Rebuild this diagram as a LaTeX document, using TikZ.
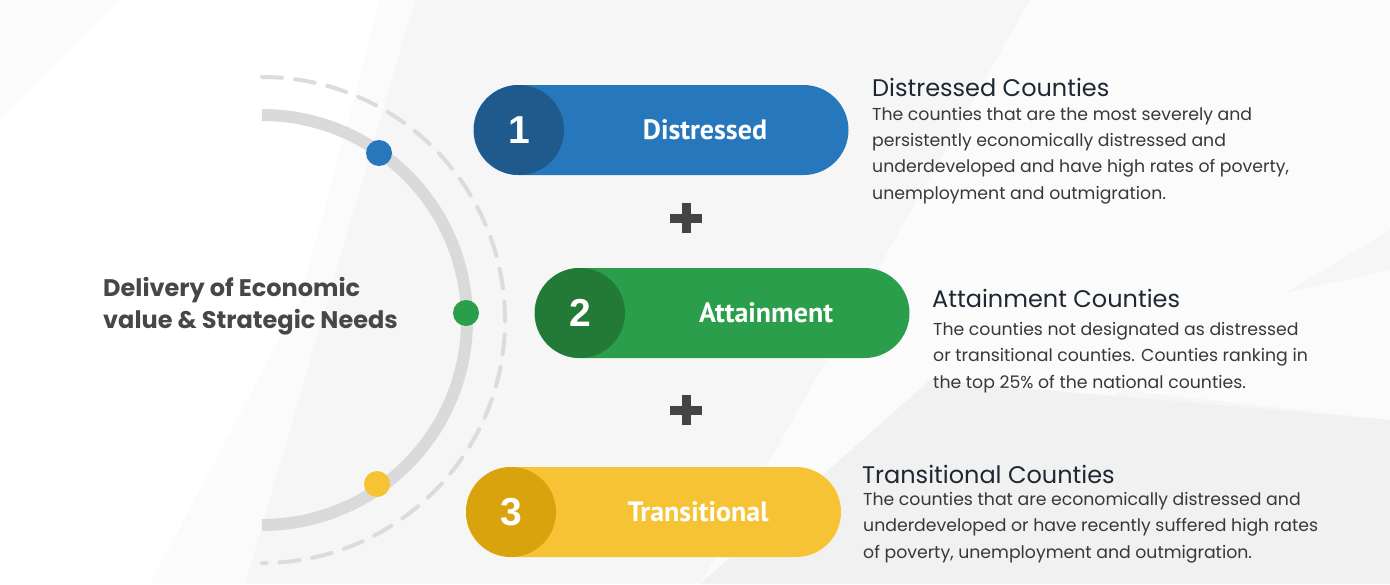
\documentclass[tikz,border=0pt]{standalone}
\usepackage{fontspec}
\setmainfont{Poppins}
\newfontfamily\pillfont{PT Sans}
\newfontfamily\numfont{Liberation Sans}
\definecolor{bgA}{HTML}{F6F6F6}
\definecolor{bgB}{HTML}{FBFBFB}
\definecolor{bgC}{HTML}{F1F1F1}
\definecolor{arcgray}{HTML}{DADADA}
\definecolor{dashgray}{HTML}{DCDCDC}
\definecolor{pBlue}{HTML}{2777BC}
\definecolor{dBlue}{HTML}{1F5A8C}
\definecolor{pGreen}{HTML}{2A9E4A}
\definecolor{dGreen}{HTML}{237A36}
\definecolor{pYellow}{HTML}{F5C334}
\definecolor{dYellow}{HTML}{D9A30D}
\definecolor{plusgray}{HTML}{444444}
\definecolor{lefttext}{HTML}{474747}
\definecolor{titletext}{HTML}{1F2733}
\definecolor{bodytext}{HTML}{383838}
\begin{document}
\begin{tikzpicture}[x=1pt,y=-1pt,
  pill/.style={rounded corners=45pt, minimum width=375pt, minimum height=90pt, inner sep=0pt},
  numcirc/.style={circle, minimum size=90pt, inner sep=0pt, text=white, font=\numfont\bfseries\fontsize{39}{39}\selectfont},
  pilltext/.style={text=white, font=\pillfont\bfseries\fontsize{28}{28}\selectfont, inner sep=0pt},
  dot/.style={circle, minimum size=26pt, inner sep=0pt},
  lefttxt/.style={anchor=base west, inner sep=0pt, text=lefttext, font=\bfseries\fontsize{24}{24}\selectfont},
  ttl/.style={anchor=base west, inner sep=0pt, text=titletext, font=\fontsize{24}{24}\selectfont},
  body/.style={anchor=base west, inner sep=0pt, text=bodytext, font=\fontsize{17.3}{17.3}\selectfont},
]
% background
\fill[bgA] (0,0) rectangle (1390,584);
\useasboundingbox (0,0) rectangle (1390,584);
\fill[bgB] (0,0) -- (415,0) -- (245,584) -- (0,584) -- cycle;
\fill[white] (120,0) -- (380,0) -- (300,300) -- (150,584) -- (0,584) -- (0,120) -- cycle;
\fill[bgB] (1030,0) -- (1390,0) -- (1390,230) -- (800,584) -- (700,584) -- cycle;
\fill[bgC] (700,584) -- (930,380) -- (1390,420) -- (1390,584) -- cycle;
\fill[bgB] (940,370) -- (1390,270) -- (1390,420) -- cycle;

% arcs
\coordinate (c) at (262,320);
\draw[arcgray, line width=12pt] (c) ++(0,-205) arc[start angle=-90, end angle=90, radius=205];
\draw[dashgray, line width=4pt, dash pattern=on 20pt off 13pt, line cap=round] (c) ++(0,-243) arc[start angle=-90, end angle=90, radius=243];

% dots
\node[dot, fill=pBlue] (d1) at (379,153) {};
\node[dot, fill=pGreen] (d2) at (466,313) {};
\node[dot, fill=pYellow] (d3) at (377,484) {};

% left text
\node[lefttxt] (lt1) at (103,296) {Delivery of Economic};
\node[lefttxt] (lt2) at (103,328) {value \& Strategic Needs};

% pills
\node[pill, fill=pBlue] (p1) at (661,130) {};
\node[numcirc, fill=dBlue] (n1) at (519,130) {1};
\node[pilltext] (l1) at (705,130) {Distressed};

\node[pill, fill=pGreen] (p2) at (722,313) {};
\node[numcirc, fill=dGreen] (n2) at (580,313) {2};
\node[pilltext] (l2) at (766,313) {Attainment};

\node[pill, fill=pYellow] (p3) at (653.5,512) {};
\node[numcirc, fill=dYellow] (n3) at (511,512) {3};
\node[pilltext] (l3) at (698,512) {Transitional};

% plus signs
\fill[plusgray] (681.5,203) rectangle (690.5,233);
\fill[plusgray] (670,213.5) rectangle (702,222.5);
\fill[plusgray] (681.5,395) rectangle (690.5,425);
\fill[plusgray] (670,405.5) rectangle (702,414.5);

% right texts
\node[ttl] (t1) at (872,96) {Distressed Counties};
\node[body] (b1a) at (872,120) {The counties that are the most severely and};
\node[body] (b1b) at (872,146) {persistently economically distressed and};
\node[body] (b1c) at (872,172.5) {underdeveloped and have high rates of poverty,};
\node[body] (b1d) at (872,199) {unemployment and outmigration.};

\node[ttl] (t2) at (932,307) {Attainment Counties};
\node[body] (b2a) at (933,335) {The counties not designated as distressed};
\node[body] (b2b) at (933,361.5) {or transitional counties. Counties ranking in};
\node[body] (b2c) at (933,388) {the top 25\% of the national counties.};

\node[ttl] (t3) at (862,483) {Transitional Counties};
\node[body] (b3a) at (863,505) {The counties that are economically distressed and};
\node[body] (b3b) at (863,531.5) {underdeveloped or have recently suffered high rates};
\node[body] (b3c) at (863,558) {of poverty, unemployment and outmigration.};
\end{tikzpicture}
\end{document}
